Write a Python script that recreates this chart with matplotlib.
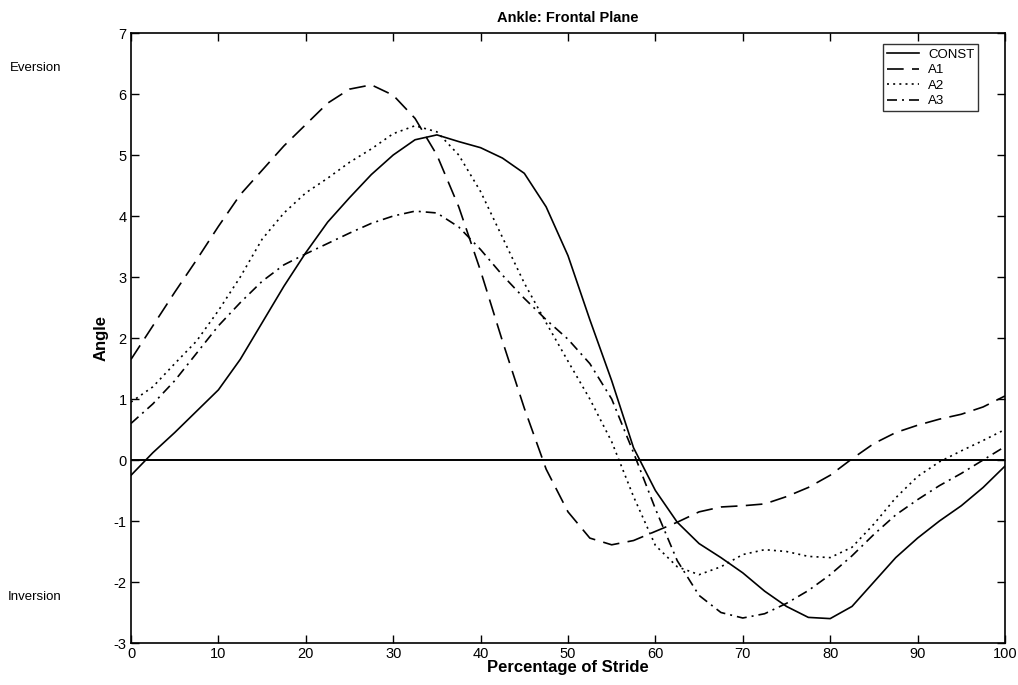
import matplotlib
matplotlib.use("Agg")
import matplotlib.pyplot as plt

plt.rcParams['font.family'] = ['Liberation Sans', 'DejaVu Sans']
plt.rcParams['axes.unicode_minus'] = False

# percent of stride, sampled every 2.5 %
stride = [i * 2.5 for i in range(41)]

const = [-0.25, 0.12, 0.45, 0.8, 1.15, 1.65, 2.25, 2.85, 3.4, 3.9, 4.3,
         4.68, 5.0, 5.25, 5.33, 5.22, 5.12, 4.95, 4.7, 4.15, 3.35,
         2.3, 1.3, 0.2, -0.5, -1.02, -1.37, -1.6, -1.85, -2.15, -2.4,
         -2.58, -2.6, -2.4, -2.0, -1.6, -1.28, -1.0, -0.75, -0.45, -0.1]
a1 = [1.65, 2.2, 2.75, 3.28, 3.83, 4.35, 4.75, 5.15, 5.5, 5.85, 6.08,
      6.15, 5.98, 5.6, 5.0, 4.15, 3.1, 1.95, 0.85, -0.15, -0.85,
      -1.28, -1.39, -1.32, -1.17, -1.02, -0.85, -0.77, -0.75, -0.72, -0.6,
      -0.45, -0.25, 0.02, 0.27, 0.45, 0.57, 0.67, 0.75, 0.87, 1.05]
a2 = [0.95, 1.2, 1.58, 1.95, 2.45, 3.0, 3.62, 4.05, 4.38, 4.62, 4.88,
      5.1, 5.35, 5.48, 5.38, 5.0, 4.4, 3.65, 2.9, 2.25, 1.62,
      1.0, 0.3, -0.6, -1.4, -1.75, -1.88, -1.75, -1.55, -1.47, -1.5,
      -1.58, -1.6, -1.43, -1.05, -0.62, -0.27, -0.03, 0.15, 0.32, 0.5]
a3 = [0.6, 0.92, 1.3, 1.75, 2.2, 2.58, 2.93, 3.2, 3.38, 3.55, 3.72,
      3.88, 4.0, 4.08, 4.05, 3.82, 3.45, 3.03, 2.65, 2.3, 1.98,
      1.58, 1.0, 0.12, -0.8, -1.65, -2.22, -2.5, -2.59, -2.52, -2.35,
      -2.14, -1.88, -1.57, -1.22, -0.9, -0.65, -0.42, -0.22, 0.0, 0.22]

series_names = ["CONST", "A1", "A2", "A3"]
x_ticks = [0, 10, 20, 30, 40, 50, 60, 70, 80, 90, 100]
y_ticks = [-3, -2, -1, 0, 1, 2, 3, 4, 5, 6, 7]

fig = plt.figure(figsize=(10.18, 6.85), dpi=100)
ax = fig.add_axes([0.1287, 0.0613, 0.8585, 0.8905])

lw = 1.2
ax.plot(stride, const, color='black', lw=lw, linestyle='-', label=series_names[0])
ax.plot(stride, a1, color='black', lw=lw, linestyle=(0, (10, 5)), label=series_names[1])
ax.plot(stride, a2, color='black', lw=lw, linestyle=(0, (1.2, 2.5)), label=series_names[2])
ax.plot(stride, a3, color='black', lw=lw, linestyle=(0, (6, 3, 1.2, 3)), label=series_names[3])
ax.axhline(0, color='black', lw=1.4)

ax.set_xlim(0, 100)
ax.set_ylim(-3, 7)
ax.set_xticks(x_ticks)
ax.set_yticks(y_ticks)
ax.tick_params(direction='in', top=True, right=True, length=6, width=1, labelsize=10.5, pad=3)
for s in ax.spines.values():
    s.set_linewidth(1.2)

ax.set_title("Ankle: Frontal Plane", fontsize=10.5, fontweight='bold', pad=8)
ax.set_xlabel("Percentage of Stride", fontsize=12, fontweight='bold', labelpad=-1)
ax.set_ylabel("Angle", fontsize=12, fontweight='bold', labelpad=4)

fig.text(0.010, 1 - 68 / 685, "Eversion", fontsize=9.5, va='center', ha='left')
fig.text(0.008, 1 - 597 / 685, "Inversion", fontsize=9.5, va='center', ha='left')

leg = ax.legend(loc='upper right', bbox_to_anchor=(0.977, 0.992), fontsize=9.5,
                frameon=True, fancybox=False, edgecolor='black', handlelength=2.4,
                borderpad=0.3, labelspacing=0.25, handletextpad=0.7)
leg.get_frame().set_linewidth(1.0)

fig.savefig("out.png", dpi=100)
